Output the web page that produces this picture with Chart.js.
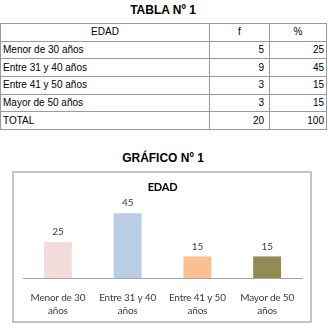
<!DOCTYPE html>
<html>
<head>
<meta charset="utf-8">
<script src="https://cdn.jsdelivr.net/npm/chart.js@4.4.1/dist/chart.umd.min.js"></script>
<style>
  html, body { margin: 0; padding: 0; background: #fff; }
  body { width: 328px; height: 329px; position: relative; overflow: hidden; font-family: "Liberation Sans", Arial, sans-serif; }
  .ttl { position: absolute; left: 0; width: 326px; text-align: center; font-weight: bold; font-size: 12px; color: #000; line-height: 14px; }
  #tbl { position: absolute; left: 0; top: 23px; width: 326px; border-collapse: collapse; font-size: 10px; color: #000; table-layout: fixed; }
  #tbl tr { height: 17.7px; }
  #tbl td { border: 1px solid #9a9a9a; padding: 0 2px; line-height: 12px; white-space: nowrap; }
  #tbl td.c { text-align: center; }
  #tbl td.r { text-align: right; }
  #tbl td.r1 { padding-right: 5px; }
  #frame { position: absolute; left: 12px; top: 171px; width: 300px; height: 152px; box-sizing: border-box; border: 2px solid #c4c4c4; }
  #wrap { position: absolute; left: 14px; top: 173px; width: 296px; height: 148px; }
</style>
</head>
<body>
<div class="ttl" style="top:3px">TABLA Nº 1</div>
<table id="tbl">
  <colgroup><col style="width:209px"><col style="width:60px"><col style="width:57px"></colgroup>
  <tbody id="tbody"></tbody>
</table>
<div class="ttl" style="top:151px">GRÁFICO Nº 1</div>
<div id="frame"></div>
<div id="wrap"><canvas id="c" width="296" height="148"></canvas></div>
<script>
// ---- data ----
const tableHeader = ['EDAD', 'f', '%'];
const edadCategories = ['Menor de 30 años', 'Entre 31 y 40 años', 'Entre 41 y 50 años', 'Mayor de 50 años'];
const frecuencia = [5, 9, 3, 3];
const porcentaje = [25, 45, 15, 15];
const totalLabel = 'TOTAL';
const totalFrecuencia = 20;
const totalPorcentaje = 100;
const chartTitle = 'EDAD';
const xTickLabels = [['Menor de 30', 'años'], ['Entre 31 y 40', 'años'], ['Entre 41 y 50', 'años'], ['Mayor de 50', 'años']];
const barColors = ['#F2DCDB', '#B9CDE5', '#FAC090', '#948A54'];

// ---- table ----
const tbody = document.getElementById('tbody');
function addRow(cells, classes) {
  const tr = document.createElement('tr');
  cells.forEach((t, i) => {
    const td = document.createElement('td');
    td.textContent = t;
    if (classes[i]) td.className = classes[i];
    tr.appendChild(td);
  });
  tbody.appendChild(tr);
}
addRow(tableHeader, ['c', 'c', 'c']);
edadCategories.forEach((cat, i) => addRow([cat, String(frecuencia[i]), String(porcentaje[i])], ['', 'r r1', 'r']));
addRow([totalLabel, String(totalFrecuencia), String(totalPorcentaje)], ['', 'r r1', 'r']);

// ---- chart ----
const chartFont = 'Lato, "Noto Sans", sans-serif';
const tightText = {
  id: 'tightText',
  beforeDraw(chart) { chart.ctx.letterSpacing = '-0.2px'; }
};
const valueLabels = {
  id: 'valueLabels',
  afterDatasetsDraw(chart) {
    const ctx = chart.ctx;
    const meta = chart.getDatasetMeta(0);
    ctx.save();
    ctx.font = '10px ' + chartFont;
    ctx.fillStyle = '#404040';
    ctx.textAlign = 'center';
    ctx.textBaseline = 'middle';
    meta.data.forEach((bar, i) => {
      ctx.fillText(String(chart.data.datasets[0].data[i]), bar.x, bar.y - 10);
    });
    ctx.restore();
  }
};

new Chart(document.getElementById('c'), {
  type: 'bar',
  data: {
    labels: xTickLabels,
    datasets: [{
      data: porcentaje,
      backgroundColor: barColors,
      borderWidth: 0,
      barPercentage: 0.4,
      categoryPercentage: 1.0
    }]
  },
  options: {
    responsive: false,
    animation: false,
    events: [],
    layout: { padding: { left: 9, right: 8, top: 0, bottom: 0 } },
    plugins: {
      legend: { display: false },
      tooltip: { enabled: false },
      title: {
        display: true,
        text: chartTitle,
        color: '#000',
        font: { family: chartFont, size: 11, weight: 'bold', lineHeight: 1.2 },
        padding: { top: 8, bottom: 11.8 }
      }
    },
    scales: {
      x: {
        grid: { display: false },
        border: { display: true, color: '#a6a6a6', width: 1 },
        ticks: {
          color: '#404040',
          font: { family: chartFont, size: 10, lineHeight: 1.3 },
          padding: 5,
          maxRotation: 0,
          autoSkip: false
        },
        afterFit(scale) { scale.height = 43; }
      },
      y: {
        display: false,
        min: 0,
        max: 50
      }
    }
  },
  plugins: [tightText, valueLabels]
});
</script>
</body>
</html>
